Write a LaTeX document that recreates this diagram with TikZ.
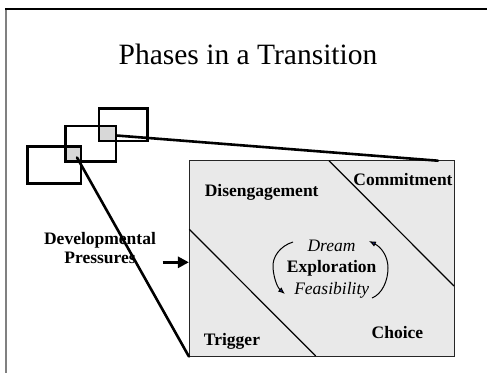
\documentclass[tikz,border=0pt]{standalone}
\usepackage{fontspec}
\setmainfont{Liberation Serif}
\usetikzlibrary{arrows.meta,calc}
\definecolor{panelgray}{HTML}{E9E9E9}
\definecolor{spotgray}{HTML}{D8D8D8}
\definecolor{framegray}{HTML}{808080}
\definecolor{tipblue}{HTML}{1A2A8A}
\tikzset{
  lens/.style={draw=black, line width=2.6pt, minimum width=#1, inner sep=0pt},
  spot/.style={fill=spotgray, inner sep=0pt},
  phase/.style={font=\fontsize{17.5}{20}\selectfont\bfseries, inner sep=0pt, anchor=base},
  sub/.style={font=\fontsize{17.5}{20}\selectfont\itshape, inner sep=0pt, anchor=base},
  callout/.style={line width=2.6pt, line cap=round},
  divider/.style={line width=1.2pt},
  cycle/.style={line width=1pt, -{Latex[length=7pt,width=5.5pt,fill=tipblue]}},
}
\begin{document}
\begin{tikzpicture}[x=1pt,y=-1pt]
\useasboundingbox (0,0) rectangle (487,373);
% slide frame
\draw[framegray, line width=2pt] (5.5,9) -- (5.5,373);
\draw[black, line width=1.3pt] (5,9) -- (487,9);
% title
\node[font=\fontsize{29.5}{34}\selectfont, inner sep=0pt, anchor=base] (title) at (248,64.3) {Phases in a Transition};

% overlapping viewing frames with their shared regions shaded
\node[spot, minimum width=15.3pt, minimum height=15pt] (s1) at (73.4,154.2) {};
\node[spot, minimum width=17pt, minimum height=15pt] (s2) at (107.5,133.5) {};
\node[lens=53.3pt, minimum height=36.6pt] (r1) at (54.4,165) {};
\node[lens=50.3pt, minimum height=35.7pt] (r2) at (90.9,143.9) {};
\node[lens=48.7pt, minimum height=32.3pt] (r3) at (123.4,124.9) {};

% enlarged panel
\node[draw=black!85, line width=0.9pt, fill=panelgray, minimum width=264.7pt, minimum height=195.3pt, inner sep=0pt] (panel) at (321.7,258.4) {};
\draw[divider] (329,160.7) -- (454,286);
\draw[divider] (189.3,229.3) -- (315.7,356);

% lines tying the shaded regions to the panel
\coordinate (topend) at (438,160.7);
\coordinate (s1tip) at (77,157.5);
\coordinate (s2out) at (116.5,135.5);
\draw[callout] (s2out) -- (topend);
\draw[callout] (s1tip) -- (panel.south west);

% phase labels
\node[phase] (dis) at (261.7,196.5) {Disengagement};
\node[phase] (com) at (403,185) {Commitment};
\node[phase] (trg) at (232,345.6) {Trigger};
\node[phase] (cho) at (397.5,338.3) {Choice};
\node[phase, align=center] (dev) at (100,263.3) {Developmental\\[-1.2pt]Pressures};
\coordinate (devout) at (162.7,262.3);
\draw[line width=3.2pt, -{Triangle[length=11pt,width=11pt]}] (devout) -- (devout -| panel.west);

% exploration cycle
\node[sub] (dream) at (331.5,251.3) {Dream};
\node[phase] (expl) at (331.7,272) {Exploration};
\node[sub] (feas) at (331.7,294.5) {Feasibility};
\draw[cycle] (293,242) .. controls (280,246) and (272,257) .. (273,268)
                       .. controls (274,280) and (278,288) .. (285,294);
\draw[cycle] (372,298) .. controls (382,294) and (388,281) .. (388,268)
                       .. controls (388,256) and (381,247) .. (369,241);
\end{tikzpicture}
\end{document}
